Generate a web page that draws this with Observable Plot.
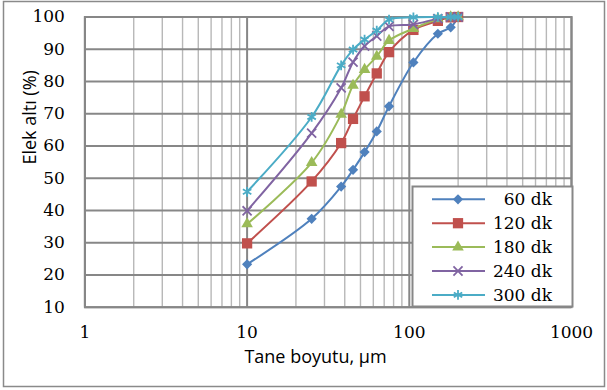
<!DOCTYPE html>
<html><head><meta charset="utf-8">
<script src="https://cdn.jsdelivr.net/npm/d3@7"></script>
<script src="https://cdn.jsdelivr.net/npm/@observablehq/plot@0.6"></script>
<style>body{margin:0;background:#fff}#chart{width:607px;height:390px}</style>
</head><body><div id="chart"></div>
<script>
// Data
const sizes = [10, 25, 38, 45, 53, 63, 75, 106, 150, 180, 200];
const seriesNames = ["60 dk", "120 dk", "180 dk", "240 dk", "300 dk"];
const s60  = [23.3, 37.4, 47.4, 52.6, 58.1, 64.5, 72.3, 85.9, 94.8, 96.8, 100];
const s120 = [29.8, 49.0, 60.9, 68.4, 75.4, 82.5, 89.1, 96.0, 98.8, 99.9, 100];
const s180 = [35.8, 54.8, 69.8, 78.8, 83.7, 87.8, 92.7, 96.4, 99.4, 100, 100];
const s240 = [39.9, 64.0, 78.0, 86.0, 91.0, 94.1, 97.1, 97.7, 99.5, 100, 100];
const s300 = [45.8, 69.0, 85.0, 89.9, 93.0, 95.8, 99.2, 99.9, 100, 100, 100];
const xTicks = [1, 10, 100, 1000];
const yTicks = [10, 20, 30, 40, 50, 60, 70, 80, 90, 100];
const xTitle = "Tane boyutu, µm";
const yTitle = "Elek altı (%)";

const colors = ["#4F81BD", "#C0504D", "#9BBB59", "#8064A2", "#4BACC6"];
const symbols = ["diamond2", "square", "triangle", "times", "asterisk"];
const radii = [4.6, 5.8, 4.3, 4.2, 4.6];
const strokeSym = [false, false, false, true, true];
const allSeries = [s60, s120, s180, s240, s300];

const minorX = [1, 10, 100].flatMap(d => d3.range(2, 10).map(k => k * d));

const W = 607, H = 390;
const mL = 84.4, mR = 36, mT = 16.5, mB = 83.3;

const marks = [
  Plot.gridX(minorX, {stroke: "#b8b8b8", strokeOpacity: 1, strokeWidth: 1.4}),
  Plot.gridX(xTicks, {stroke: "#878787", strokeOpacity: 1, strokeWidth: 2}),
  Plot.gridY(yTicks, {stroke: "#878787", strokeOpacity: 1, strokeWidth: 2}),
  Plot.frame({stroke: "#878787", strokeWidth: 2}),
  Plot.axisX(xTicks, {tickSize: 0, tickPadding: 19, tickFormat: d => String(d), label: null, fontSize: 17, fontFamily: "DejaVu Serif", fill: "#000"}),
  Plot.axisY(yTicks, {tickSize: 0, tickPadding: 20, tickFormat: d => String(d), label: null, fontSize: 17, fontFamily: "DejaVu Serif", fill: "#000"}),
  Plot.text([xTitle], {frameAnchor: "bottom", dy: 56, dx: -12.7, fontFamily: "Open Sans", fontSize: 18, fill: "#000"}),
  Plot.text([yTitle], {frameAnchor: "left", rotate: -90, dx: -54.4, dy: 2.5, fontFamily: "Open Sans", fontSize: 18, fill: "#000"})
];

allSeries.forEach((vals, i) => {
  const rows = sizes.map((s, j) => ({size: s, value: vals[j]}));
  marks.push(Plot.line(rows, {x: "size", y: "value", stroke: colors[i], strokeWidth: 2, curve: "catmull-rom"}));
  marks.push(Plot.dot(rows, strokeSym[i]
    ? {x: "size", y: "value", symbol: symbols[i], r: radii[i], stroke: colors[i], fill: "none", strokeWidth: 1.8}
    : {x: "size", y: "value", symbol: symbols[i], r: radii[i], fill: colors[i], stroke: "none"}));
});

const svg = Plot.plot({
  width: W, height: H,
  marginLeft: mL, marginRight: mR, marginTop: mT, marginBottom: mB,
  style: {fontFamily: "DejaVu Serif", fontSize: "17px", background: "#fff", overflow: "visible"},
  x: {type: "log", domain: [1, 1000]},
  y: {domain: [10, 100]},
  marks
});

// Legend (inside plot, lower right)
const sel = d3.select(svg);
const lg = sel.append("g");
const lx0 = 412.5, ly0 = 186.5, lw = 160, lh = 120;
lg.append("rect").attr("x", lx0).attr("y", ly0).attr("width", lw).attr("height", lh)
  .attr("fill", "#fff").attr("stroke", "#878787").attr("stroke-width", 2);
const symMap = [d3.symbolDiamond2, d3.symbolSquare, d3.symbolTriangle, d3.symbolTimes, d3.symbolAsterisk];
seriesNames.forEach((name, i) => {
  const y = 199.3 + i * 23.9;
  lg.append("line").attr("x1", 432).attr("x2", 485).attr("y1", y).attr("y2", y)
    .attr("stroke", colors[i]).attr("stroke-width", 2);
  const p = lg.append("path").attr("transform", `translate(458,${y})`)
    .attr("d", d3.symbol(symMap[i], Math.PI * radii[i] * radii[i])());
  if (strokeSym[i]) p.attr("fill", "none").attr("stroke", colors[i]).attr("stroke-width", 1.8);
  else p.attr("fill", colors[i]);
  lg.append("text").attr("x", 552).attr("y", y).attr("dy", "0.35em").attr("text-anchor", "end")
    .attr("font-family", "DejaVu Serif").attr("font-size", 17).attr("fill", "#000").text(name);
});

// Outer chart border
sel.append("rect").attr("x", 3.5).attr("y", 1.5).attr("width", 601).attr("height", 385)
  .attr("fill", "none").attr("stroke", "#8a8a8a").attr("stroke-width", 1.5);

document.getElementById("chart").appendChild(svg);
</script>
</body></html>
